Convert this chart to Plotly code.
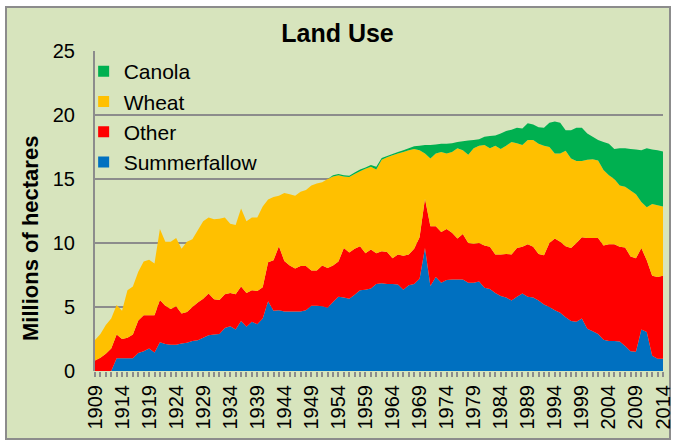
import plotly.graph_objects as go

years = list(range(1909, 2015))

summerfallow = [
    0, 0, 0, 0, 1.0, 1.0, 1.0, 1.0, 1.4, 1.55,
    1.75, 1.45, 2.25, 2.1, 2.05, 2.05, 2.15, 2.2, 2.35, 2.4,
    2.6, 2.8, 2.85, 2.9, 3.35, 3.5, 3.25, 3.9, 3.45, 3.85,
    3.65, 4.1, 5.45, 4.7, 4.75, 4.65, 4.65, 4.65, 4.65, 4.75,
    5.1, 5.1, 5.05, 4.95, 5.4, 5.8, 5.75, 5.65, 5.95, 6.3,
    6.35, 6.45, 6.8, 6.85, 6.8, 6.8, 6.75, 6.35, 6.7, 6.8,
    7.2, 9.6, 6.65, 7.35, 6.9, 7.1, 7.15, 7.15, 7.15, 6.9,
    6.9, 7.0, 6.5, 6.4, 6.1, 5.85, 5.75, 5.5, 5.8, 6.05,
    5.8, 5.75, 5.5, 5.2, 5.0, 4.75, 4.55, 4.2, 3.9, 3.85,
    4.1, 3.3, 3.1, 2.9, 2.45, 2.35, 2.35, 2.3, 1.95, 1.55,
    1.5, 3.25, 3.05, 1.2, 0.95, 0.95,
]

other = [
    0.83, 1.04, 1.35, 1.75, 1.85, 1.5, 1.6, 1.85, 2.55, 2.8,
    2.6, 2.9, 3.3, 3.0, 2.8, 3.0, 2.35, 2.4, 2.65, 2.95,
    3.05, 3.25, 2.75, 2.65, 2.65, 2.6, 2.75, 2.7, 2.65, 2.45,
    2.6, 2.45, 3.05, 3.95, 5.0, 3.95, 3.6, 3.35, 3.55, 3.45,
    2.75, 2.75, 3.2, 3.1, 2.85, 2.75, 3.85, 3.6, 3.6, 3.45,
    2.85, 3.05, 2.4, 2.5, 2.5, 2.0, 2.35, 2.65, 2.4, 2.75,
    3.25, 3.85, 4.65, 3.95, 3.95, 4.0, 3.65, 3.2, 3.55, 3.1,
    3.05, 3.0, 3.3, 3.3, 3.0, 3.25, 3.4, 3.6, 3.8, 3.65,
    4.1, 3.95, 3.65, 3.85, 5.0, 5.6, 5.55, 5.55, 5.7, 6.15,
    6.35, 7.1, 7.3, 7.5, 7.35, 7.55, 7.55, 7.4, 7.7, 7.4,
    7.3, 6.35, 5.6, 6.25, 6.4, 6.5,
]

wheat = [
    1.6, 1.85, 2.25, 2.35, 2.3, 2.2, 3.7, 3.75, 3.8, 4.2,
    4.35, 4.05, 5.55, 5.0, 5.25, 5.35, 5.05, 5.5, 5.3, 5.65,
    6.05, 5.95, 6.25, 6.35, 6.0, 5.4, 5.4, 6.1, 5.6, 5.7,
    5.75, 6.3, 4.9, 4.95, 3.95, 5.3, 5.55, 5.7, 5.8, 5.95,
    6.65, 6.8, 6.5, 6.95, 6.95, 6.75, 5.6, 5.9, 5.85, 5.85,
    6.6, 6.45, 6.55, 7.15, 7.4, 8.05, 7.9, 8.1, 8.15, 7.8,
    6.8, 3.55, 5.3, 5.7, 6.25, 5.9, 6.3, 7.05, 6.55, 6.9,
    7.45, 7.6, 7.85, 7.7, 8.5, 8.25, 8.45, 8.8, 8.2, 7.95,
    8.15, 8.35, 8.6, 8.55, 7.5, 6.65, 6.9, 7.45, 7.0, 6.4,
    5.95, 6.1, 6.15, 6.05, 5.9, 5.4, 5.1, 4.8, 4.75, 5.15,
    5.0, 3.6, 4.15, 5.6, 5.6, 5.4,
]

canola = [
    0, 0, 0, 0, 0, 0, 0, 0, 0, 0,
    0, 0, 0, 0, 0, 0, 0, 0, 0, 0,
    0, 0, 0, 0, 0, 0, 0, 0, 0, 0,
    0, 0, 0, 0, 0, 0, 0, 0, 0, 0,
    0, 0, 0, 0, 0.1, 0.1, 0.1, 0.1, 0.1, 0.15,
    0.1, 0.15, 0.2, 0.15, 0.1, 0.1, 0.1, 0.15, 0.15, 0.2,
    0.35, 0.65, 1.05, 0.7, 0.65, 0.75, 0.7, 0.5, 0.7, 1.1,
    0.65, 0.5, 0.65, 0.95, 0.8, 1.2, 1.15, 0.95, 1.2, 1.3,
    1.3, 1.2, 1.3, 1.4, 1.9, 2.5, 2.4, 1.6, 2.2, 2.6,
    2.6, 2.05, 1.75, 1.6, 2.2, 2.45, 2.35, 2.9, 3.0, 3.25,
    3.5, 4.05, 4.6, 4.25, 4.3, 4.3,
]

series = [
    ("Summerfallow", summerfallow, "#0070C0"),
    ("Other", other, "#FF0000"),
    ("Wheat", wheat, "#FFC000"),
    ("Canola", canola, "#00B050"),
]

FONT = "Liberation Sans, Arial, sans-serif"
BG = "#D7E4BD"
GRID = "#8C8C8C"

fig = go.Figure()

for name, vals, col in series:
    fig.add_trace(go.Scatter(
        x=years, y=vals, name=name, stackgroup="one",
        mode="none", fillcolor=col, showlegend=False, hoverinfo="skip",
    ))

# legend entries with square swatches, top to bottom
for name, vals, col in reversed(series):
    fig.add_trace(go.Scatter(
        x=[None], y=[None], name=name, mode="markers",
        marker=dict(symbol="square", size=11, color=col),
    ))

fig.update_layout(
    width=675, height=444,
    margin=dict(l=95, r=12, t=51, b=73),
    paper_bgcolor="white",
    plot_bgcolor=BG,
    font=dict(family=FONT, color="black"),
    title=dict(text="Land Use", x=0.5, xref="container", y=1 - 33 / 444,
               yanchor="middle", font=dict(size=25, weight="bold")),
    showlegend=True,
    legend=dict(x=-0.02, y=1.0, xanchor="left", yanchor="top",
                bgcolor="rgba(0,0,0,0)", font=dict(size=21),
                itemwidth=30, traceorder="normal"),
    shapes=[dict(type="rect", xref="paper", yref="paper", layer="below",
                 x0=(6 - 95) / 568, x1=(670 - 95) / 568,
                 y0=(371 - 439) / 320, y1=(371 - 7) / 320,
                 fillcolor=BG, line=dict(color="#8C8C8C", width=2))],
    # y axis title, centred a little below the plot middle as in the original
    annotations=[dict(text="<b>Millions of hectares</b>", textangle=-90,
                      xref="paper", yref="paper", x=(30 - 95) / 568,
                      y=(371 - 239) / 320, xanchor="center", yanchor="middle",
                      showarrow=False, font=dict(size=22))],
)

fig.update_xaxes(
    range=[1909, 2014], tick0=1909, dtick=5, tickangle=-90,
    ticks="outside", ticklen=5, tickwidth=1.5, tickcolor=GRID,
    tickfont=dict(size=20), showgrid=False, zeroline=False, showline=False,
    automargin=False,
    minor=dict(ticks="outside", dtick=1, tick0=1909, ticklen=5,
               tickwidth=1.5, tickcolor=GRID, showgrid=False),
)

fig.update_yaxes(
    range=[0, 25], dtick=5, showgrid=True, gridcolor=GRID, gridwidth=2,
    zeroline=False, showline=True, linecolor=GRID, linewidth=2,
    tickfont=dict(size=20), ticklabelstandoff=14, automargin=False,
)

fig.write_html("out.html", config={"displayModeBar": False},
               post_script="document.body.style.margin='0px';")
